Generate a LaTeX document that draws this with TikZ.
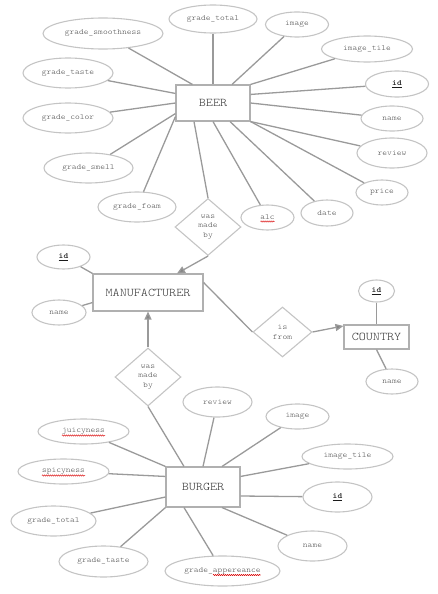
\documentclass[tikz,border=0pt]{standalone}
\usepackage{fontspec}
\setmonofont{lmmonolt10-regular.otf}[FakeStretch=1.14, BoldFont=lmmonolt10-bold.otf]
\usetikzlibrary{shapes.geometric,arrows.meta,calc,decorations.pathmorphing}
\definecolor{ellc}{HTML}{C4C4C4}
\definecolor{entc}{HTML}{B0B0B0}
\definecolor{linec}{HTML}{9A9A9A}
\definecolor{arrc}{HTML}{858585}
\definecolor{txtc}{HTML}{505050}
\definecolor{enttxt}{HTML}{383838}
\definecolor{keytxt}{HTML}{1A1A1A}
\begin{document}
\begin{tikzpicture}[x=1pt,y=-1pt,
  attr/.style={ellipse,draw=ellc,line width=1.1pt,inner sep=0pt,text=txtc,
    font=\ttfamily\fontsize{7.95}{9.5}\selectfont},
  sz/.style 2 args={minimum width=#1pt,minimum height=#2pt},
  entity/.style={rectangle,draw=entc,line width=1.1pt,inner sep=0pt,text=enttxt,
    font=\ttfamily\fontsize{11.8}{14}\selectfont},
  rel/.style={diamond,draw=ellc,line width=1.1pt,inner sep=0pt,text=txtc,align=center,
    font=\ttfamily\fontsize{7.95}{9.5}\selectfont},
  conn/.style={draw=linec,line width=1.3pt},
  arr/.style={conn,-{Triangle[length=8pt,width=7pt,fill=arrc]}},
  squig/.style={draw=red!85!black,line width=0.5pt,decorate,
    decoration={snake,amplitude=0.6pt,segment length=2pt}},
  keyid/.style={text=keytxt}
]
\useasboundingbox (0,0) rectangle (438,594);

% ---------- BEER ----------
\node[entity,sz={74}{36}] (beer) at (213,103) {BEER};
\node[attr,sz={88}{28}] (gtot) at (213,19) {grade\_total};
\node[attr,sz={63}{25}] (bimg) at (297,24.5) {image};
\node[attr,sz={91}{26}] (bimt) at (367,49) {image\_tile};
\node[attr,sz={63}{26},keyid] (bid) at (397,84) {\textbf{\underline{id}}};
\node[attr,sz={62}{25}] (bname) at (392,118.5) {name};
\node[attr,sz={70}{30}] (brev) at (392,153) {review};
\node[attr,sz={52}{25}] (bprice) at (382,192.5) {price};
\node[attr,sz={52}{26}] (bdate) at (327,213) {date};
\node[attr,sz={53}{25}] (balc) at (267.5,217.5) {alc};
\node[attr,sz={78}{30}] (bfoam) at (137,207) {grade\_foam};
\node[attr,sz={89}{30}] (bsmell) at (88.5,168) {grade\_smell};
\node[attr,sz={90}{30}] (bcolor) at (68,118) {grade\_color};
\node[attr,sz={90}{30}] (btaste) at (68,73) {grade\_taste};
\node[attr,sz={120}{31}] (bsmooth) at (103,33.5) {grade\_smoothness};

\draw[conn] (bsmooth) -- ($(beer.north west)+(17,0)$);
\draw[conn] (gtot) -- (beer.north);
\draw[conn] (bimg) -- ($(beer.north)+(19,0)$);
\draw[conn] (bimt) -- (beer.north east);
\draw[conn] (bid) -- ($(beer.north east)+(0,10)$);
\draw[conn] (bname) -- (beer.east);
\draw[conn] (brev) -- (beer.south east);
\draw[conn] (bprice) -- (beer.south east);
\draw[conn] (bdate) -- ($(beer.south)+(17,0)$);
\draw[conn] (balc) -- (beer.south);
\draw[conn] (bfoam) -- ($(beer.south west)+(0,-5)$);
\draw[conn] (bsmell) -- ($(beer.south west)+(0,-8)$);
\draw[conn] (bcolor) -- (beer.west);
\draw[conn] (btaste) -- ($(beer.north west)+(0,9)$);

% ---------- relation BEER - MANUFACTURER ----------
\node[rel,sz={66}{57}] (made1) at (208,227) {was\\made\\by};
\draw[conn] ($(beer.south)+(-19,0)$) -- (made1.north);

% ---------- MANUFACTURER ----------
\node[entity,sz={110}{37}] (manuf) at (148,292.5) {MANUFACTURER};
\node[attr,sz={53}{24},keyid] (mid) at (63.5,257) {\textbf{\underline{id}}};
\node[attr,sz={54}{25}] (mname) at (59,312.5) {name};
\draw[conn] (mid) -- (manuf.north west);
\draw[conn] (mname) -- ($(manuf.south west)+(0,-9)$);
\draw[arr] (made1.south) -- ($(manuf.north)+(29,0)$);

% ---------- COUNTRY ----------
\node[rel,sz={59}{50}] (isfrom) at (282.5,332) {is\\from};
\node[entity,sz={65}{24}] (country) at (376.5,337) {COUNTRY};
\node[attr,sz={36}{22},keyid] (cid) at (376.5,291) {\textbf{\underline{id}}};
\node[attr,sz={52}{25}] (cname) at (392,381.5) {name};
\draw[conn] ($(manuf.north east)+(0,9)$) -- (isfrom.west);
\draw[arr] (isfrom.east) -- ($(country.north west)+(0,1.5)$);
\draw[conn] (cid) -- (country.north);
\draw[conn] (country.south) -- (cname.115);

% ---------- relation BURGER - MANUFACTURER ----------
\node[rel,sz={66}{58}] (made2) at (148,377) {was\\made\\by};
\draw[arr] (made2.north) -- (manuf.south);

% ---------- BURGER ----------
\node[entity,sz={74}{40}] (burger) at (203,487) {BURGER};
\node[attr,sz={69}{30}] (urev) at (217.5,402) {review};
\node[attr,sz={63}{25}] (uimg) at (297.5,416.5) {image};
\node[attr,sz={91}{25}] (uimt) at (347.5,456.5) {image\_tile};
\node[attr,sz={69}{30},keyid] (uid) at (337.5,497) {\textbf{\underline{id}}};
\node[attr,sz={69}{30}] (uname) at (312.5,546) {name};
\node[attr,sz={115}{30}] (uapp) at (222.5,571) {grade\_appereance};
\node[attr,sz={89}{31}] (utaste) at (103.5,561.5) {grade\_taste};
\node[attr,sz={85}{30}] (utot) at (53.5,521) {grade\_total};
\node[attr,sz={91}{25}] (uspicy) at (63.5,471.5) {spicyness};
\node[attr,sz={91}{25}] (ujuicy) at (83.5,431.5) {juicyness};

\draw[conn] (made2.south) -- ($(burger.north)+(-19,0)$);
\draw[conn] (urev) -- (burger.north);
\draw[conn] (uimg) -- ($(burger.north)+(19,0)$);
\draw[conn] (uimt) -- ($(burger.north east)+(0,10)$);
\draw[conn] (uid) -- ($(burger.east)+(0,9)$);
\draw[conn] (uname) -- ($(burger.south)+(19,0)$);
\draw[conn] (uapp) -- ($(burger.south)+(-19,0)$);
\draw[conn] (utaste) -- (burger.south west);
\draw[conn] (utot) -- ($(burger.west)+(0,10)$);
\draw[conn] (uspicy) -- ($(burger.north west)+(0,10)$);
\draw[conn] (ujuicy) -- (burger.north west);

% ---------- spell-check marks ----------
\draw[squig] ($(balc.center)+(-7,4)$) -- ++(14,0);
\draw[squig] ($(ujuicy.center)+(-21.5,4)$) -- ++(43,0);
\draw[squig] ($(uspicy.center)+(-21.5,4)$) -- ++(43,0);
\draw[squig] ($(uapp.center)+(-9.5,4)$) -- ++(47.5,0);
\end{tikzpicture}
\end{document}
